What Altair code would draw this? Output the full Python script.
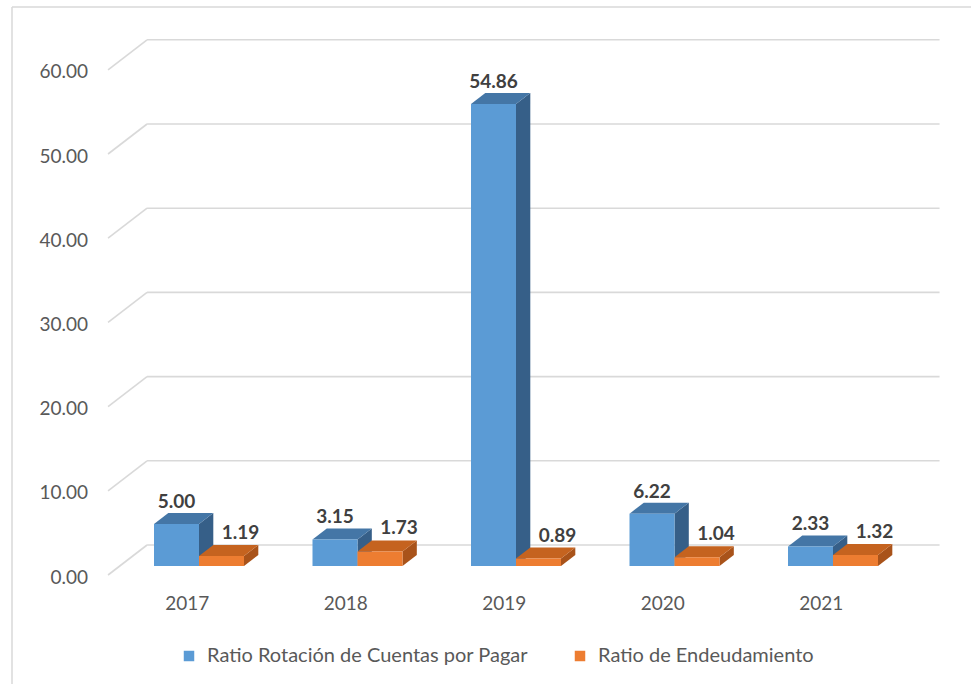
import altair as alt
import pandas as pd

# ---------------- data ----------------
years = ["2017", "2018", "2019", "2020", "2021"]
rotacion = [5.00, 3.15, 54.86, 6.22, 2.33]
endeudamiento = [1.19, 1.73, 0.89, 1.04, 1.32]
series_names = ["Ratio Rotación de Cuentas por Pagar", "Ratio de Endeudamiento"]
y_ticks = [0, 10, 20, 30, 40, 50, 60]

# ---------------- styling / geometry ----------------
W, H = 971, 684
FONT = "Lato"
PX_PER_GROUP = 158.5     # px between year groups
PX_PER_UNIT = 8.42       # px per value unit
DEPTH_X = 1.3            # horizontal shift per px of vertical depth shift
BAR_W = 45 / PX_PER_GROUP
FRONT, BACK, WALL = 9, 20, 30   # depth (px) of bar front, bar back and back wall
ORIGIN_X, ORIGIN_Y = 187.3, 575  # pixel of group 0 / value 0 at depth 0

front_cols = ["#5B9BD5", "#ED7D31"]
top_cols = ["#4476A6", "#C5631F"]
side_cols = ["#365F88", "#A9531A"]
grid_col = "#D9D9D9"


def X(u, p):
    return u + DEPTH_X * p / PX_PER_GROUP


def Y(v, p):
    return v + p / PX_PER_UNIT


xscale = alt.Scale(domain=[-ORIGIN_X / PX_PER_GROUP, (W - ORIGIN_X) / PX_PER_GROUP], nice=False, zero=False)
yscale = alt.Scale(domain=[(ORIGIN_Y - H) / PX_PER_UNIT, ORIGIN_Y / PX_PER_UNIT], nice=False, zero=False)

# ---------------- tables built from the arrays ----------------
fronts, sides, tops, labels = [], [], [], []
for i, yr in enumerate(years):
    for s, vals in enumerate([rotacion, endeudamiento]):
        v = vals[i]
        xl = i - BAR_W if s == 0 else i
        xr = xl + BAR_W
        fid = f"{yr}-{s}"
        fronts.append(dict(series=series_names[s], x=X(xl, FRONT), x2=X(xr, FRONT),
                           y=Y(0, FRONT), y2=Y(v, FRONT)))
        # side face (right)
        sides.append(dict(face=fid, x=X(xr, FRONT), lo=Y(0, FRONT), hi=Y(v, FRONT), col=side_cols[s]))
        sides.append(dict(face=fid, x=X(xr, BACK), lo=Y(0, BACK), hi=Y(v, BACK), col=side_cols[s]))
        # top face (parallelogram)
        vf, vb = Y(v, FRONT), Y(v, BACK)
        tops.append(dict(face=fid, x=X(xl, FRONT), lo=vf, hi=vf, col=top_cols[s]))
        tops.append(dict(face=fid, x=X(xl, BACK), lo=vf, hi=vb, col=top_cols[s]))
        tops.append(dict(face=fid, x=X(xr, FRONT), lo=vf, hi=vb, col=top_cols[s]))
        tops.append(dict(face=fid, x=X(xr, BACK), lo=vb, hi=vb, col=top_cols[s]))
        labels.append(dict(s=s, x=X((xl + xr) / 2, FRONT), y=Y(v, BACK), v=v))

fronts = pd.DataFrame(fronts)
sides = pd.DataFrame(sides)
tops = pd.DataFrame(tops)
labels = pd.DataFrame(labels)

grid = pd.DataFrame(dict(
    v=y_ticks,
    xf=[X(-0.5, 0)] * len(y_ticks),
    xb=[X(-0.5, WALL)] * len(y_ticks),
    xe=[X(4.5, WALL)] * len(y_ticks),
    yf=[Y(t, 0) for t in y_ticks],
    yb=[Y(t, WALL) for t in y_ticks],
))
year_df = pd.DataFrame(dict(year=years, x=list(range(len(years))), y=[Y(0, 0)] * len(years)))

def xq(field):
    return alt.X(field, type="quantitative", scale=xscale, axis=None)

def yq(field):
    return alt.Y(field, type="quantitative", scale=yscale, axis=None)

# ---------------- layers ----------------
frame_df = pd.DataFrame({"a": [0]})
frame_left = alt.Chart(frame_df).mark_rule(color=grid_col, strokeWidth=1.5).encode(
    x=alt.value(12), y=alt.value(7), y2=alt.value(H))
frame_top = alt.Chart(frame_df).mark_rule(color=grid_col, strokeWidth=1.5).encode(
    x=alt.value(12), x2=alt.value(W), y=alt.value(7))

back_grid = alt.Chart(grid).mark_rule(color=grid_col, strokeWidth=1.6).encode(
    x=xq("xb"), x2="xe:Q", y=yq("yb"))
diag_grid = alt.Chart(grid).mark_rule(color=grid_col, strokeWidth=1.6).encode(
    x=xq("xf"), x2="xb:Q", y=yq("yf"), y2="yb:Q")

y_labels = alt.Chart(grid).mark_text(align="right", baseline="middle", dx=-20, dy=2.5,
                                      font=FONT, fontSize=19, color="#595959").encode(
    x=xq("xf"), y=yq("yf"), text=alt.Text("v:Q", format=".2f"))

side_layer = alt.Chart(sides).mark_area(interpolate="linear").encode(
    x=xq("x"), y=yq("lo"), y2="hi:Q", detail="face:N",
    fill=alt.Fill("col:N", scale=None))
top_layer = alt.Chart(tops).mark_area(interpolate="linear").encode(
    x=xq("x"), y=yq("lo"), y2="hi:Q", detail="face:N",
    fill=alt.Fill("col:N", scale=None))

front_layer = alt.Chart(fronts).mark_rect().encode(
    x=xq("x"), x2="x2:Q", y=yq("y"), y2="y2:Q",
    color=alt.Color("series:N",
                    scale=alt.Scale(domain=series_names, range=front_cols),
                    sort=series_names,
                    legend=alt.Legend(title=None, orient="none", legendX=179, legendY=646,
                                      direction="horizontal", symbolType="square",
                                      symbolSize=110, symbolStrokeWidth=0,
                                      labelFont=FONT, labelFontSize=20, labelColor="#595959",
                                      labelLimit=1000,
                                      labelOffset=8, columnPadding=42)))

lab_blue = alt.Chart(labels[labels.s == 0]).mark_text(
    baseline="middle", dy=-11, font=FONT, fontSize=19, fontWeight="bold", color="#404040").encode(
    x=xq("x"), y=yq("y"), text=alt.Text("v:Q", format=".2f"))
lab_orange = alt.Chart(labels[labels.s == 1]).mark_text(
    baseline="middle", dx=19, dy=-12, font=FONT, fontSize=19, fontWeight="bold", color="#404040").encode(
    x=xq("x"), y=yq("y"), text=alt.Text("v:Q", format=".2f"))

year_labels = alt.Chart(year_df).mark_text(baseline="middle", dy=29, font=FONT, fontSize=19,
                                           color="#595959").encode(
    x=xq("x"), y=yq("y"), text="year:N")

chart = alt.layer(
    frame_left, frame_top, back_grid, diag_grid, y_labels,
    side_layer, top_layer, front_layer, lab_blue, lab_orange, year_labels,
).properties(
    width=W, height=H, autosize="none", padding=0, background="white"
).configure_view(strokeWidth=0)

chart.save("out.html", embed_options={"renderer": "svg", "actions": False})
